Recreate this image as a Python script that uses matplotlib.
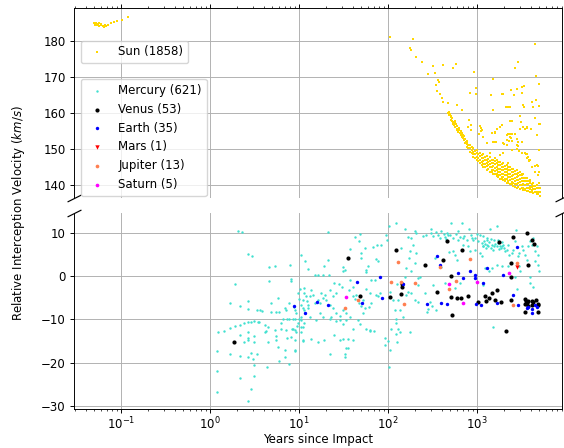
import matplotlib
matplotlib.use('Agg')
import matplotlib.pyplot as plt

plt.rcParams.update({
    'font.size': 8.5,
    'axes.linewidth': 0.68,
    'grid.linewidth': 0.68,
    'xtick.major.size': 3.0, 'ytick.major.size': 3.0,
    'xtick.minor.size': 1.7, 'ytick.minor.size': 1.7,
    'xtick.major.width': 0.68, 'ytick.major.width': 0.68,
    'xtick.minor.width': 0.5, 'ytick.minor.width': 0.5,
    'xtick.major.pad': 1.5, 'ytick.major.pad': 3.0,
})

# legend counts (full catalogue sizes)
names = ['Sun', 'Mercury', 'Venus', 'Earth', 'Mars', 'Jupiter', 'Saturn']
counts = [1858, 621, 53, 35, 1, 13, 5]

# --- Sun (top panel), (years, km/s) ---
sun_early = [(0.050, 184.9), (0.051, 184.5), (0.052, 185.0), (0.053, 184.6), (0.055, 184.8),
             (0.056, 184.3), (0.057, 184.9), (0.059, 184.5), (0.060, 184.8), (0.062, 184.3),
             (0.064, 184.0), (0.066, 184.5), (0.068, 184.2), (0.072, 184.6), (0.077, 184.9),
             (0.083, 185.2), (0.090, 185.5), (0.102, 185.9), (0.121, 186.6)]

sun_scatter = [(105, 181.1), (193, 180.5), (177, 178), (181, 177.5), (206, 175.6), (239, 174.1),
               (281, 170.9), (320, 173), (337, 171.2), (368, 169.2), (374, 168.7), (346, 167.8),
               (352, 166.2), (384, 165.3), (404, 164.3), (418, 163.1), (468, 162.9), (418, 173.4),
               (542, 172.4), (581, 173.6), (925, 171.5), (591, 162.2), (673, 160.8), (4490, 179.3),
               (4600, 170.3), (4930, 168.1), (2890, 174.3), (2670, 172.5), (1525, 169.4), (975, 166.9),
               (976, 165.2), (834, 165.7), (1435, 165), (1900, 165.2), (1950, 165.2), (2390, 166.3),
               (2790, 166.8), (3200, 167.2), (3400, 167.4), (3180, 165.7), (2600, 165.1), (2100, 161.6),
               (2250, 161.6), (1500, 160.8), (3250, 162.2), (3350, 161.8), (4190, 163.1), (4650, 163.6),
               (4290, 161.8), (5010, 162), (3030, 159.2), (4530, 158.6), (5120, 157), (2470, 157.8),
               (3120, 157.4), (3640, 155.8), (3500, 155.6), (3030, 155.5), (1810, 156.1), (1900, 156.8),
               (1590, 154.7), (1480, 154.5), (1110, 155.8), (1100, 154.9), (860, 155.3), (800, 156),
               (2230, 154.2), (2350, 154.1), (2500, 154.2), (2400, 153), (2450, 152.3), (2150, 152.6),
               (2300, 152.2), (2000, 151.3), (2150, 151.1), (2800, 151.1), (2850, 150.9), (1570, 152),
               (1620, 152), (3560, 148.7), (3650, 148.6), (4970, 149.7), (3920, 147), (3880, 146.8),
               (4500, 145.4), (4800, 145.4), (4970, 143.5), (4970, 140.6), (3900, 140.9), (3180, 143),
               (2150, 161.6), (2350, 161.7), (3260, 162.2), (4110, 163.1), (817, 158.2), (846, 156.7),
               (1077, 156.4), (1125, 155.3), (1060, 154.3), (1175, 153.4), (1460, 154.5), (1590, 154.5),
               (1660, 155.7), (1810, 156.2), (1524, 152), (1973, 151.7), (2150, 153.9), (2350, 153.4),
               (2450, 154.3), (2670, 154.3), (2790, 152.7), (2910, 152), (3180, 152), (3040, 159.2),
               (2350, 157.9), (3310, 156.2), (3610, 156), (4490, 158.5), (5010, 157.1), (4010, 155.7),
               (4680, 153.9), (5010, 149.7), (4680, 145.5), (4490, 143.7), (4890, 142.8), (3460, 148.8),
               (3770, 147.9), (3870, 146.9), (2790, 149.9), (2990, 149.5), (3180, 149), (3680, 147.4),
               (4110, 145.1), (1940, 148.8), (1810, 148.3), (2250, 146), (2450, 149.7), (1282, 151.6),
               (1397, 148.8), (1590, 147.4)]

sun_curve = [(476, 160), (486, 159.4), (500, 159.7), (504, 158.9), (516, 158), (520, 158.6),
             (530, 157.5), (540, 157.1), (545, 156.8), (560, 157.8), (563, 156.2), (578, 156.9),
             (588, 155.5), (600, 156.4), (614, 154.8), (630, 155.4), (653, 153.9), (670, 153.4),
             (680, 154.4), (700, 153.2), (712, 152.5), (731, 151.8), (740, 152.9), (762, 152.3),
             (490, 160.3), (510, 159.2), (525, 157.9), (555, 156.6), (570, 157.3), (595, 155.2),
             (620, 155.9), (645, 154.5), (660, 154.9), (690, 153.8), (720, 153.5), (750, 151.9)]

sun_band = [(762, 152), (762, 151.4), (762, 150.6), (832, 151.1), (832, 150.2), (832, 149.2),
            (906, 150.2), (906, 149.2), (906, 148.5), (906, 147.9),
            (989, 149.7), (989, 148.8), (989, 147.9), (989, 146.9),
            (1077, 149), (1077, 148.0), (1077, 147.1), (1077, 146),
            (1175, 148.5), (1175, 147.6), (1175, 146.7), (1175, 145.8), (1175, 145.1),
            (1282, 148.0), (1282, 147.1), (1282, 146.2), (1282, 145.3), (1282, 144.3),
            (1397, 147.7), (1397, 146.7), (1397, 145.8), (1397, 144.9), (1397, 143.7),
            (1524, 147.1), (1524, 146.2), (1524, 145.3), (1524, 144.2), (1524, 143.0),
            (1660, 146.9), (1660, 146), (1660, 145.1), (1660, 144.2), (1660, 143.2), (1660, 142.4),
            (1810, 146.5), (1810, 145.5), (1810, 144.6), (1810, 143.7), (1810, 142.8), (1810, 141.8),
            (1973, 146), (1973, 145.1), (1973, 144.2), (1973, 143.2), (1973, 142.3), (1973, 141.3),
            (2150, 145.5), (2150, 144.6), (2150, 143.7), (2150, 142.8), (2150, 141.7), (2150, 140.7),
            (2350, 145.1), (2350, 144.2), (2350, 143.2), (2350, 142.3), (2350, 141.3), (2350, 140.3),
            (2560, 144.6), (2560, 143.7), (2560, 142.8), (2560, 141.7), (2560, 140.7), (2560, 139.8),
            (2790, 144.2), (2790, 143.2), (2790, 142.3), (2790, 141.3), (2790, 140.3), (2790, 139.3),
            (3040, 143.7), (3040, 142.8), (3040, 141.8), (3040, 140.8), (3040, 139.9), (3040, 139),
            (3310, 143), (3310, 142.1), (3310, 141.2), (3310, 140.3), (3310, 139.3), (3310, 138.6),
            (3610, 142.1), (3610, 141.2), (3610, 140.3), (3610, 139.3), (3610, 138.3),
            (3930, 141.4), (3930, 140.5), (3930, 139.5), (3930, 138.8), (3930, 138.0),
            (4280, 140.6), (4280, 139.7), (4280, 138.8), (4280, 137.7),
            (4680, 140), (4680, 139.1), (4680, 138.2), (4680, 137.4),
            (5100, 139.1), (5100, 138.0), (5100, 137.0)]

sun_band2 = [(796, 151.1), (796, 150.3), (868, 150.6), (868, 149.7), (868, 148.9),
             (946, 149.5), (946, 148.6), (946, 147.6), (1032, 148.5), (1032, 147.5), (1032, 146.6),
             (1125, 148.3), (1125, 147.4), (1125, 146.4), (1125, 145.6),
             (1227, 147.8), (1227, 146.9), (1227, 145.9), (1227, 145),
             (1337, 147.3), (1337, 146.4), (1337, 145.5), (1337, 144.5),
             (1458, 146.9), (1458, 146), (1458, 145), (1458, 144.1), (1458, 143.5),
             (1589, 146.7), (1589, 145.8), (1589, 144.8), (1589, 143.9), (1589, 143.0),
             (1733, 146.4), (1733, 145.5), (1733, 144.6), (1733, 143.7), (1733, 142.8), (1733, 142.3),
             (1889, 145.9), (1889, 145), (1889, 144.1), (1889, 143.2), (1889, 142.3), (1889, 141.7),
             (2060, 145.4), (2060, 144.5), (2060, 143.6), (2060, 142.7), (2060, 141.8), (2060, 141.2),
             (2247, 145), (2247, 144.1), (2247, 143.1), (2247, 142.2), (2247, 141.2), (2247, 140.6),
             (2449, 144.5), (2449, 143.6), (2449, 142.6), (2449, 141.7), (2449, 140.8), (2449, 140.2),
             (2671, 144), (2671, 143.1), (2671, 142.1), (2671, 141.1), (2671, 140.2), (2671, 139.6),
             (2912, 143.4), (2912, 142.5), (2912, 141.5), (2912, 140.5), (2912, 139.6),
             (3175, 142.9), (3175, 142), (3175, 141), (3175, 140.1), (3175, 139.1),
             (3461, 141.9), (3461, 141), (3461, 140), (3461, 139), (3461, 138.5),
             (3774, 141.1), (3774, 140.2), (3774, 139.2), (3774, 138.4),
             (4114, 140.4), (4114, 139.5), (4114, 138.6), (4114, 138),
             (4486, 139.8), (4486, 138.9), (4486, 138.0),
             (4891, 139.1), (4891, 138.2), (4891, 137.4)]

# --- planets (bottom panel) ---
mercury = [(2.05, 10.5), (2.29, 10.2), (2.65, 5.1), (2.97, 4.65), (4.57, 2.1), (5.3, 2.3), (8.0, 2.6),
           (10.4, 4.9), (11.6, 3.4), (12.6, 1.6), (1.93, -1.9), (4.57, -1.2), (8.2, -0.7), (8.2, -1.2),
           (10.3, -3.0), (5.8, -5.1), (1.68, -6.1), (2.15, -6.9), (2.65, -5.7), (2.65, -7.5), (3.35, -7.9),
           (3.62, -7.8), (3.85, -8.0), (4.8, -6.3), (4.8, -8.3), (5.5, -8.4), (6.0, -8.3), (6.9, -7.3),
           (7.2, -7.8), (7.7, -6.3), (8.9, -7.8), (9.3, -8.6), (8.7, -7.1), (9.8, -3.8), (10.1, -5.3),
           (12.0, -4.7), (12.6, -6.7), (11.3, -7.8), (11.8, -8.6), (8.5, -9.9), (8.9, -9.8), (7.8, -10.0),
           (7.3, -9.9), (6.6, -9.8), (10.1, -10.0), (10.6, -10.2), (9.7, -10.8), (9.5, -11.6), (8.9, -12.5),
           (8.5, -12.1), (9.3, -12.9), (11.0, -11.7), (1.22, -12.9), (1.45, -12.6), (1.68, -11.9),
           (1.93, -11.6), (2.15, -11.3), (2.15, -13.6), (2.39, -10.9), (2.65, -10.5), (2.65, -12.9),
           (2.9, -10.5), (3.15, -10.4), (3.44, -10.6), (3.59, -10.5), (2.65, -14.8), (2.65, -14.2),
           (3.15, -13.9), (3.15, -15.2), (2.43, -15.2), (4.1, -11.3), (4.1, -12.9), (4.45, -11.7),
           (4.45, -15.2), (5.3, -12.5), (5.45, -13.9), (5.45, -14.7), (6.3, -10.9), (6.3, -12.1),
           (7.2, -12.5), (7.3, -14.4), (8.2, -14.0), (8.4, -12.1), (9.1, -14.8), (11.0, -15.0),
           (10.6, -12.9), (5.8, -16.4), (6.9, -17.1), (8.9, -17.1), (9.1, -17.4), (6.9, -18.8),
           (5.9, -19.6), (7.7, -20.2), (1.2, -17.4), (1.69, -18.0), (2.15, -18.4), (2.65, -18.7),
           (3.02, -19.1), (2.9, -17.7), (3.35, -17.9), (3.15, -20.6), (4.4, -20.9), (1.2, -22.0),
           (2.15, -23.6), (3.15, -23.1), (1.2, -26.7), (2.9, -26.0), (2.65, -28.8), (4.27, -12.7),
           (21, 10.2), (43, 9.1), (49, 9.8), (47, 8.1), (37, 6.3), (55, 6.5), (68, 6.7), (75, 7.3),
           (84, 7.1), (96, 9.6), (103, 11.5), (124, 12.3), (98, 8.4), (50, 5.35), (50, 4.2), (74, 4.0),
           (77, 3.4), (60, 2.4), (57, 1.5), (57, 0.85), (31, 2.1), (33, 1.5), (31, 1.1), (21, 3.8),
           (19, 2.4), (15, 0.3), (16.3, 0.3), (18.6, 0.3), (21.7, 0.3), (25, -1.6), (28, -1.8), (30, -2.4),
           (37, -0.85), (40, -2.6), (36.5, -3.2), (65, -0.85), (71, -1.0), (57, -3.0), (63, -3.95),
           (73, -4.35), (81, -3.8), (77, -4.7), (65, -6.1), (61, -7.2), (55, -7.4), (52, -8.6),
           (11.5, -2.8), (11.5, -4.0), (11.0, -5.5), (10.6, -6.7), (11.0, -7.4), (10.6, -9.4),
           (11.5, -10.9), (10.6, -11.7), (13.7, -3.2), (14.3, -4.3), (16.3, -5.5), (17, -6.3),
           (18.6, -5.1), (20, -5.5), (22, -6.7), (24, -7.4), (26, -8.6), (23, -9.4), (28.6, -9.2),
           (31, -7.8), (34, -8.6), (37, -9.4), (34, -10.2), (31, -11.0), (26, -10.3), (22, -10.0),
           (28.6, -10.2), (17, -8.6), (18.6, -9.5), (15.6, -10.2), (13.2, -9.4), (46, -10.2), (48, -11.1),
           (40, -12.1), (57, -12.1), (62, -12.5), (19, -14.8), (16.3, -15.2), (13.7, -14.6), (11, -14.8),
           (25, -13.6), (28.6, -14.8), (31, -14.6), (35.5, -14.6), (40, -14.8), (34, -16.7), (35.5, -16.6),
           (33, -17.9), (33, -18.7), (22, -18.1), (92, -14.4), (100, -15.0), (69, -12.6), (63, -12.6),
           (52, -5.5), (47, -6.1), (50, -7.0), (40, -4.7), (44, -4.3), (42, -5.3), (24, -4.6), (26, -3.95),
           (22, -3.2), (19.5, -4.35), (17.7, -3.95), (13.2, -4.6), (12.3, -5.7), (15, -6.1), (12.6, -7.4),
           (105, -3.6), (114, -5.5), (119, -7.8), (124, -9.8), (108, -12.1), (124, -13.3), (92, -16.0),
           (105, -17.1), (103, -21.0),
           (154, 10.8), (168, 9.1), (180, 8.8), (203, 10.4), (208, 10.0), (248, 9.2), (270, 9.4),
           (302, 10.8), (321, 9.2), (366, 9.6), (398, 10.4), (435, 9.1), (474, 9.4), (516, 12.3),
           (540, 8.8), (614, 10.4), (614, 8.4), (670, 12.3), (700, 8.8), (762, 8.4), (810, 10.8),
           (906, 8.4), (946, 8.8), (1030, 8.1), (1125, 7.7), (1175, 9.2), (141, 6.5), (175, 5.7),
           (191, 7.3), (208, 5.35), (171, 4.2), (200, 3.0), (161, 1.9), (180, 1.1), (218, -0.5),
           (227, -0.1), (154, -0.1), (127, -1.8), (161, -4.3), (168, -3.6), (180, -3.95), (130, -5.5),
           (135, -7.8), (148, -9.4), (124, -10.9), (130, -12.1), (135, -12.9), (175, -12.9), (127, -15.2),
           (203, -5.5), (218, -5.9), (259, -4.0), (294, -5.9), (282, -7.7), (277, -8.2), (313, -6.9),
           (350, -7.8), (335, 4.2), (398, 2.2), (482, 5.5), (540, 5.7), (563, 5.0), (588, 3.8), (700, 7.3),
           (795, 6.9), (830, 5.7), (946, 6.1), (1077, 5.35), (1175, 6.9), (1125, 4.6), (218, -2.0),
           (321, -2.0), (435, -1.6), (563, -2.8), (641, -1.6), (450, 8.6), (500, 9.6), (580, 9.7),
           (650, 9.0), (720, 9.3), (850, 9.5), (880, 8.9), (990, 9.8), (460, 10.0), (420, 9.8),
           (380, 8.9), (345, 10.1), (300, 9.9),
           (1080, 9.4), (1230, 7.5), (1280, 7.3), (1340, 6.9), (1460, 7.3), (1520, 6.1), (1550, 8.4),
           (1660, 6.9), (1740, 7.7), (1810, 7.05), (1845, 6.5), (1890, 6.9), (1980, 7.3), (2060, 5.7),
           (2150, 6.1), (2250, 7.3), (2310, 4.96), (2450, 5.35), (2560, 6.1), (2670, 8.1), (2740, 10.6),
           (2920, 4.6), (2990, 5.35), (3180, 6.9), (3320, 6.1), (3470, 4.96), (3620, 3.8), (3780, 6.9),
           (3950, 8.1), (4120, 7.3), (4300, 8.8), (4490, 5.7), (4690, 6.9), (4900, 4.96), (5030, 1.3),
           (4900, 2.6), (4490, 3.4), (3950, -0.1), (2990, 2.25), (3000, 1.1), (2670, -0.1), (2250, 2.25),
           (1890, 2.25), (1660, 2.6), (1490, 1.9), (1380, 1.1), (1230, 1.9), (1155, -1.6), (1660, 11.7),
           (1400, 10.9), (1280, 8.4), (1155, 6.9), (3950, -1.6), (4300, -2.4), (2790, -3.0), (1155, -2.0),
           (1500, -11.8), (1200, 8.2), (1300, 8.8), (1350, 7.9), (1420, 6.6), (1600, 7.4), (1700, 8.3),
           (1750, 6.2), (1900, 7.8), (2000, 6.6), (1450, 8.6), (1250, 6.4), (1560, 7.0)]

venus = [(1.88, -15.3), (35.5, 4.2), (48, -4.6), (106, -4.9), (124, 6.1), (144, -2.4), (139, -4.2),
         (263, 2.5), (353, -3.6), (454, 8.1), (508, 0.15), (504, -4.9), (589, -5.0), (658, -5.1),
         (782, -4.6), (681, 6.1), (529, -8.9), (1014, -5.9), (1770, 7.8), (2560, 9.1), (2390, 3.0),
         (3620, 10.0), (4120, 8.4), (4420, 7.5), (3780, 2.6), (2410, -0.3), (1230, -4.6), (1460, -3.8),
         (1660, -3.3), (1260, -5.65), (1370, -5.1), (1590, -5.5), (1845, -5.9), (2410, -5.5),
         (3470, -5.35), (3560, -5.65), (3620, -6.1), (3780, -5.65), (4120, -5.65), (4300, -5.9),
         (4780, -6.4), (4900, -6.7), (4120, -6.7), (3470, -8.4), (4780, -8.2), (2120, -12.7),
         (410, 3.7), (143, -1.7), (3500, -6.5), (3700, -7.0), (4600, -5.5)]

earth = [(8.7, -7.0), (11.8, -8.45), (15.9, -6.05), (21, -6.7), (45, -1.4), (51, -6.1), (81, -0.3),
         (86, -5.1), (148, -1.8), (359, 4.6), (382, 2.6), (614, 0.7), (700, -0.5), (830, 1.3),
         (946, 0.3), (946, -0.5), (1175, -1.5), (277, -6.4), (398, -6.1), (454, -6.5), (964, -6.5),
         (2840, 6.7), (1940, 0.2), (1280, 1.9), (2560, -4.3), (1690, -6.1), (2860, -6.7), (3620, -7.4),
         (4120, -7.7), (4120, -8.45), (4690, -7.05), (4490, -6.7), (3780, -7.2), (1100, -6.7)]

mars = [(2800, 2.2)]

jupiter = [(46, -5.6), (33, -7.3), (107, -1.3), (141, -1.3), (128, 3.3), (151, -6.5), (200, -1.6),
           (382, 2.2), (487, -2.9), (574, -1.1), (832, 3.95), (2790, 3.1), (2520, -6.7)]

saturn = [(33.4, -4.8), (482, -1.7), (688, -6.1), (989, -1.3), (2300, 0.8)]

fig = plt.figure(figsize=(5.64, 4.48), dpi=100)
ax_top = fig.add_axes([0.1312, 0.558, 0.8652, 0.4241])
ax_bot = fig.add_axes([0.1312, 0.0871, 0.8652, 0.4375], sharex=ax_top)

sun = sun_early + sun_scatter + sun_curve + sun_band + sun_band2
sx, sy = zip(*sun)
ax_top.scatter(sx, sy, s=4, color='gold', marker='s', linewidths=0,
               label=f'{names[0]} ({counts[0]})')

series = [(mercury, 'turquoise', 3, 'o'), (venus, 'black', 9, 'o'), (earth, 'blue', 6, 'o'),
          (mars, 'red', 10, 'v'), (jupiter, 'coral', 7, 'o'), (saturn, 'magenta', 7, 'o')]
for (pts, col, size, mk), name, n in zip(series, names[1:], counts[1:]):
    x, y = zip(*pts)
    ax_bot.scatter(x, y, s=size, color=col, marker=mk, linewidths=0, label=f'{name} ({n})')

ax_top.set_xscale('log')
ax_top.set_xlim(0.0296, 9000)
ax_top.set_ylim(136.4, 189.2)
ax_bot.set_ylim(-30.7, 14.6)
ax_top.set_yticks([140, 150, 160, 170, 180])
ax_bot.set_yticks([-30, -20, -10, 0, 10])

for ax in (ax_top, ax_bot):
    ax.grid(True, color='#b0b0b0')
    ax.set_axisbelow(True)

# broken axis
ax_top.spines['bottom'].set_visible(False)
ax_bot.spines['top'].set_visible(False)
ax_top.xaxis.tick_top()
ax_top.tick_params(labeltop=False)
ax_bot.xaxis.tick_bottom()

d = .5
kw = dict(marker=[(-1, -d), (1, d)], markersize=10, linestyle='none', color='k', mec='k', mew=0.85, clip_on=False)
ax_top.plot([0, 1], [0, 0], transform=ax_top.transAxes, **kw)
ax_bot.plot([0, 1], [1, 1], transform=ax_bot.transAxes, **kw)

ax_bot.set_xlabel('Years since Impact', labelpad=1)
fig.text(0.032, 0.525, 'Relative Interception Velocity ($km/s$)', rotation=90,
         ha='center', va='center')

ax_top.legend(loc='upper left', bbox_to_anchor=(0.143, 0.909), bbox_transform=fig.transFigure,
              borderaxespad=0)
ax_bot.legend(loc='upper left', bbox_to_anchor=(0.143, 0.8237), bbox_transform=fig.transFigure,
              borderaxespad=0)

fig.savefig('out.png', dpi=100)
